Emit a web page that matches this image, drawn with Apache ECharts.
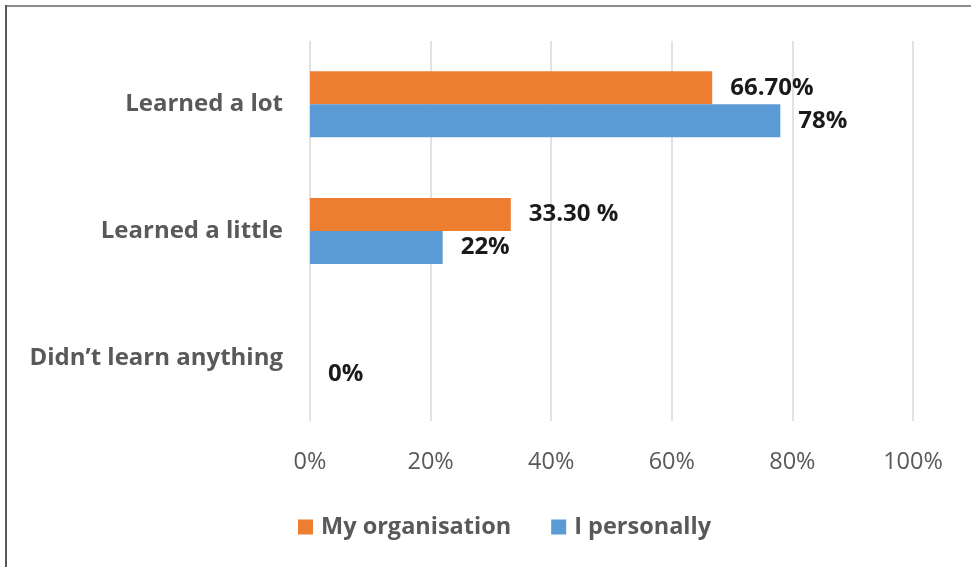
<!DOCTYPE html>
<html>
<head>
<meta charset="utf-8">
<script src="https://cdn.jsdelivr.net/npm/echarts@6/dist/echarts.min.js"></script>
<style>
  html, body { margin: 0; padding: 0; background: #fff; }
  #chart { width: 971px; height: 567px; }
</style>
</head>
<body>
<div id="chart"></div>
<script>
// Survey responses: how much was learned
const categories = ['Learned a lot', 'Learned a little', 'Didn\u2019t learn anything'];
const seriesNames = ['My organisation', 'I personally'];
const orgValues = [66.7, 33.3, 0];
const personalValues = [78, 22, 0];
const orgLabels = ['66.70%', '33.30 %', ''];
const personalLabels = ['78%', '22%', '0%'];
const xTicks = [0, 20, 40, 60, 80, 100];

const FONT = '"Open Sans", "Noto Sans", sans-serif';
const ORANGE = '#ED7D31';
const BLUE = '#5B9BD5';

const chart = echarts.init(document.getElementById('chart'), null, { renderer: 'canvas' });

function valueLabel(texts) {
  return {
    show: true,
    position: 'right',
    distance: 18,
    color: '#1a1a1a',
    fontFamily: FONT,
    fontWeight: 'bold',
    fontSize: 24,
    formatter: p => texts[p.dataIndex]
  };
}

chart.setOption({
  animation: false,
  backgroundColor: '#ffffff',
  textStyle: { fontFamily: FONT },
  grid: { left: 310, right: 58, top: 41, bottom: 146, containLabel: false },
  legend: {
    data: seriesNames,
    top: 510,
    left: 293,
    itemWidth: 15,
    itemHeight: 15,
    itemGap: 40,
    icon: 'rect',
    textStyle: { color: '#595959', fontSize: 23.5, fontWeight: 'bold', fontFamily: FONT, padding: [0, 0, 0, 3] }
  },
  xAxis: {
    type: 'value',
    min: xTicks[0],
    max: xTicks[xTicks.length - 1],
    interval: 20,
    axisLine: { show: false },
    axisTick: { show: false },
    splitLine: { show: true, lineStyle: { color: '#d9d9d9', width: 1.5 } },
    axisLabel: {
      color: '#595959',
      fontSize: 23.5,
      fontFamily: FONT,
      margin: 29,
      formatter: v => v + '%'
    }
  },
  yAxis: {
    type: 'category',
    data: categories,
    inverse: true,
    axisLine: { show: false },
    axisTick: { show: false },
    axisLabel: {
      color: '#595959',
      fontSize: 24,
      fontWeight: 'bold',
      fontFamily: FONT,
      margin: 27
    }
  },
  series: [
    {
      name: seriesNames[0],
      type: 'bar',
      data: orgValues,
      barWidth: 33,
      barGap: '0%',
      itemStyle: { color: ORANGE },
      label: valueLabel(orgLabels)
    },
    {
      name: seriesNames[1],
      type: 'bar',
      data: personalValues,
      barWidth: 33,
      barGap: '0%',
      itemStyle: { color: BLUE },
      label: valueLabel(personalLabels)
    }
  ],
  graphic: [
    { type: 'line', shape: { x1: 5, y1: 6, x2: 971, y2: 6 }, style: { stroke: '#8c8c8c', lineWidth: 2 } },
    { type: 'line', shape: { x1: 6, y1: 5, x2: 6, y2: 567 }, style: { stroke: '#595959', lineWidth: 2 } }
  ]
});
</script>
</body>
</html>
